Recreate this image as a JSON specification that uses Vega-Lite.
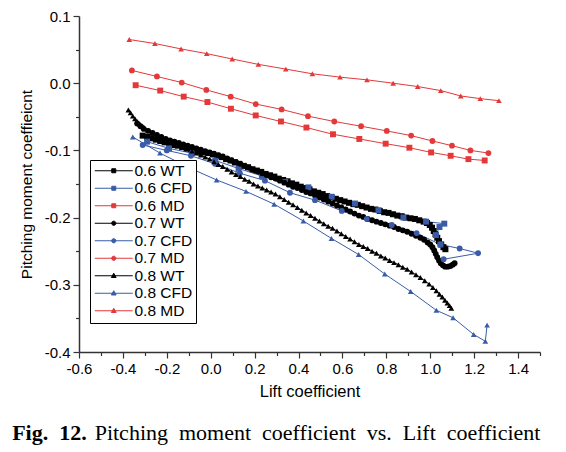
{
  "$schema": "https://vega.github.io/schema/vega-lite/v6.json",
  "width": 461,
  "height": 336,
  "autosize": {"type": "none"},
  "padding": {"left": 79, "top": 16, "right": 26, "bottom": 100},
  "background": "white",
  "config": {
    "view": {"stroke": null},
    "locale": {"number": {"decimal": ".", "thousands": ",", "grouping": [3], "currency": ["$", ""], "minus": "-"}}
  },
  "title": {
    "text": "Fig.\u00a0 12.",
    "subtitle": "\u200b\u00a0\u00a0\u00a0\u00a0\u00a0\u00a0\u00a0\u00a0\u00a0\u00a0\u00a0\u00a0\u00a0\u00a0\u00a0Pitching\u00a0 moment\u00a0 coefficient\u00a0 vs.\u00a0 Lift\u00a0 coefficient",
    "orient": "bottom",
    "anchor": "start",
    "frame": "bounds",
    "font": "Liberation Serif",
    "fontSize": 22,
    "fontWeight": "bold",
    "color": "black",
    "subtitleFont": "Liberation Serif",
    "subtitleFontSize": 22,
    "subtitleFontWeight": "normal",
    "subtitleColor": "black",
    "subtitlePadding": -22,
    "offset": 23,
    "dx": -7
  },
  "data": {"values": [
    {"s":"0.6 WT","x":-0.31,"y":-0.078},{"s":"0.6 WT","x":-0.29,"y":-0.080},{"s":"0.6 WT","x":-0.27,"y":-0.082},{"s":"0.6 WT","x":-0.25,"y":-0.084},{"s":"0.6 WT","x":-0.23,"y":-0.086},{"s":"0.6 WT","x":-0.21,"y":-0.088},{"s":"0.6 WT","x":-0.19,"y":-0.090},{"s":"0.6 WT","x":-0.17,"y":-0.092},{"s":"0.6 WT","x":-0.15,"y":-0.093},{"s":"0.6 WT","x":-0.13,"y":-0.095},{"s":"0.6 WT","x":-0.11,"y":-0.097},{"s":"0.6 WT","x":-0.09,"y":-0.098},{"s":"0.6 WT","x":-0.07,"y":-0.100},{"s":"0.6 WT","x":-0.05,"y":-0.101},{"s":"0.6 WT","x":-0.03,"y":-0.103},{"s":"0.6 WT","x":-0.01,"y":-0.104},{"s":"0.6 WT","x":0.01,"y":-0.106},{"s":"0.6 WT","x":0.03,"y":-0.108},{"s":"0.6 WT","x":0.05,"y":-0.110},{"s":"0.6 WT","x":0.07,"y":-0.113},{"s":"0.6 WT","x":0.09,"y":-0.115},{"s":"0.6 WT","x":0.11,"y":-0.118},{"s":"0.6 WT","x":0.13,"y":-0.120},{"s":"0.6 WT","x":0.15,"y":-0.123},{"s":"0.6 WT","x":0.17,"y":-0.125},{"s":"0.6 WT","x":0.19,"y":-0.128},{"s":"0.6 WT","x":0.21,"y":-0.130},{"s":"0.6 WT","x":0.23,"y":-0.132},{"s":"0.6 WT","x":0.25,"y":-0.135},{"s":"0.6 WT","x":0.27,"y":-0.137},{"s":"0.6 WT","x":0.29,"y":-0.139},{"s":"0.6 WT","x":0.31,"y":-0.142},{"s":"0.6 WT","x":0.33,"y":-0.144},{"s":"0.6 WT","x":0.35,"y":-0.146},{"s":"0.6 WT","x":0.37,"y":-0.149},{"s":"0.6 WT","x":0.39,"y":-0.151},{"s":"0.6 WT","x":0.41,"y":-0.154},{"s":"0.6 WT","x":0.43,"y":-0.156},{"s":"0.6 WT","x":0.45,"y":-0.158},{"s":"0.6 WT","x":0.47,"y":-0.161},{"s":"0.6 WT","x":0.49,"y":-0.163},{"s":"0.6 WT","x":0.51,"y":-0.165},{"s":"0.6 WT","x":0.53,"y":-0.168},{"s":"0.6 WT","x":0.55,"y":-0.170},{"s":"0.6 WT","x":0.57,"y":-0.172},{"s":"0.6 WT","x":0.59,"y":-0.174},{"s":"0.6 WT","x":0.61,"y":-0.176},{"s":"0.6 WT","x":0.63,"y":-0.178},{"s":"0.6 WT","x":0.65,"y":-0.180},{"s":"0.6 WT","x":0.67,"y":-0.181},{"s":"0.6 WT","x":0.69,"y":-0.183},{"s":"0.6 WT","x":0.71,"y":-0.185},{"s":"0.6 WT","x":0.73,"y":-0.187},{"s":"0.6 WT","x":0.75,"y":-0.188},{"s":"0.6 WT","x":0.77,"y":-0.190},{"s":"0.6 WT","x":0.79,"y":-0.192},{"s":"0.6 WT","x":0.81,"y":-0.193},{"s":"0.6 WT","x":0.83,"y":-0.195},{"s":"0.6 WT","x":0.85,"y":-0.197},{"s":"0.6 WT","x":0.87,"y":-0.198},{"s":"0.6 WT","x":0.89,"y":-0.200},{"s":"0.6 WT","x":0.91,"y":-0.201},{"s":"0.6 WT","x":0.93,"y":-0.202},{"s":"0.6 WT","x":0.95,"y":-0.204},{"s":"0.6 WT","x":0.97,"y":-0.206},{"s":"0.6 WT","x":0.985,"y":-0.208},{"s":"0.6 WT","x":0.998,"y":-0.211},{"s":"0.6 WT","x":1.008,"y":-0.215},{"s":"0.6 WT","x":1.016,"y":-0.220},{"s":"0.6 WT","x":1.024,"y":-0.225},{"s":"0.6 WT","x":1.032,"y":-0.230},{"s":"0.6 WT","x":1.040,"y":-0.235},{"s":"0.6 WT","x":1.050,"y":-0.240},{"s":"0.6 WT","x":1.060,"y":-0.244},{"s":"0.6 WT","x":1.069,"y":-0.247},
    {"s":"0.6 CFD","x":-0.29,"y":-0.087},{"s":"0.6 CFD","x":-0.19,"y":-0.097},{"s":"0.6 CFD","x":-0.087,"y":-0.104},{"s":"0.6 CFD","x":0.021,"y":-0.115},{"s":"0.6 CFD","x":0.127,"y":-0.127},{"s":"0.6 CFD","x":0.233,"y":-0.138},{"s":"0.6 CFD","x":0.339,"y":-0.147},{"s":"0.6 CFD","x":0.445,"y":-0.155},{"s":"0.6 CFD","x":0.551,"y":-0.169},{"s":"0.6 CFD","x":0.657,"y":-0.179},{"s":"0.6 CFD","x":0.764,"y":-0.189},{"s":"0.6 CFD","x":0.878,"y":-0.200},{"s":"0.6 CFD","x":0.981,"y":-0.206},{"s":"0.6 CFD","x":1.064,"y":-0.209},{"s":"0.6 CFD","x":1.042,"y":-0.214},{"s":"0.6 CFD","x":1.026,"y":-0.226},{"s":"0.6 CFD","x":1.047,"y":-0.240},
    {"s":"0.6 MD","x":-0.342,"y":-0.003},{"s":"0.6 MD","x":-0.230,"y":-0.011},{"s":"0.6 MD","x":-0.123,"y":-0.020},{"s":"0.6 MD","x":-0.015,"y":-0.028},{"s":"0.6 MD","x":0.092,"y":-0.038},{"s":"0.6 MD","x":0.205,"y":-0.048},{"s":"0.6 MD","x":0.320,"y":-0.057},{"s":"0.6 MD","x":0.436,"y":-0.066},{"s":"0.6 MD","x":0.557,"y":-0.076},{"s":"0.6 MD","x":0.677,"y":-0.083},{"s":"0.6 MD","x":0.797,"y":-0.090},{"s":"0.6 MD","x":0.905,"y":-0.096},{"s":"0.6 MD","x":1.004,"y":-0.103},{"s":"0.6 MD","x":1.093,"y":-0.108},{"s":"0.6 MD","x":1.174,"y":-0.113},{"s":"0.6 MD","x":1.248,"y":-0.115},
    {"s":"0.7 WT","x":-0.335,"y":-0.060},{"s":"0.7 WT","x":-0.32,"y":-0.064},{"s":"0.7 WT","x":-0.305,"y":-0.068},{"s":"0.7 WT","x":-0.285,"y":-0.071},{"s":"0.7 WT","x":-0.265,"y":-0.074},{"s":"0.7 WT","x":-0.245,"y":-0.077},{"s":"0.7 WT","x":-0.225,"y":-0.080},{"s":"0.7 WT","x":-0.205,"y":-0.083},{"s":"0.7 WT","x":-0.185,"y":-0.085},{"s":"0.7 WT","x":-0.165,"y":-0.087},{"s":"0.7 WT","x":-0.145,"y":-0.089},{"s":"0.7 WT","x":-0.125,"y":-0.091},{"s":"0.7 WT","x":-0.105,"y":-0.093},{"s":"0.7 WT","x":-0.085,"y":-0.095},{"s":"0.7 WT","x":-0.065,"y":-0.097},{"s":"0.7 WT","x":-0.045,"y":-0.099},{"s":"0.7 WT","x":-0.025,"y":-0.101},{"s":"0.7 WT","x":-0.005,"y":-0.103},{"s":"0.7 WT","x":0.015,"y":-0.105},{"s":"0.7 WT","x":0.035,"y":-0.107},{"s":"0.7 WT","x":0.055,"y":-0.109},{"s":"0.7 WT","x":0.075,"y":-0.112},{"s":"0.7 WT","x":0.095,"y":-0.115},{"s":"0.7 WT","x":0.115,"y":-0.117},{"s":"0.7 WT","x":0.135,"y":-0.120},{"s":"0.7 WT","x":0.155,"y":-0.123},{"s":"0.7 WT","x":0.175,"y":-0.126},{"s":"0.7 WT","x":0.195,"y":-0.129},{"s":"0.7 WT","x":0.215,"y":-0.131},{"s":"0.7 WT","x":0.235,"y":-0.134},{"s":"0.7 WT","x":0.255,"y":-0.137},{"s":"0.7 WT","x":0.275,"y":-0.140},{"s":"0.7 WT","x":0.295,"y":-0.142},{"s":"0.7 WT","x":0.315,"y":-0.145},{"s":"0.7 WT","x":0.335,"y":-0.148},{"s":"0.7 WT","x":0.355,"y":-0.151},{"s":"0.7 WT","x":0.375,"y":-0.154},{"s":"0.7 WT","x":0.395,"y":-0.156},{"s":"0.7 WT","x":0.415,"y":-0.159},{"s":"0.7 WT","x":0.435,"y":-0.162},{"s":"0.7 WT","x":0.455,"y":-0.164},{"s":"0.7 WT","x":0.475,"y":-0.167},{"s":"0.7 WT","x":0.495,"y":-0.170},{"s":"0.7 WT","x":0.515,"y":-0.173},{"s":"0.7 WT","x":0.535,"y":-0.176},{"s":"0.7 WT","x":0.555,"y":-0.179},{"s":"0.7 WT","x":0.575,"y":-0.182},{"s":"0.7 WT","x":0.595,"y":-0.185},{"s":"0.7 WT","x":0.615,"y":-0.188},{"s":"0.7 WT","x":0.635,"y":-0.191},{"s":"0.7 WT","x":0.655,"y":-0.194},{"s":"0.7 WT","x":0.675,"y":-0.197},{"s":"0.7 WT","x":0.695,"y":-0.199},{"s":"0.7 WT","x":0.715,"y":-0.202},{"s":"0.7 WT","x":0.735,"y":-0.204},{"s":"0.7 WT","x":0.755,"y":-0.206},{"s":"0.7 WT","x":0.775,"y":-0.208},{"s":"0.7 WT","x":0.795,"y":-0.210},{"s":"0.7 WT","x":0.815,"y":-0.212},{"s":"0.7 WT","x":0.835,"y":-0.214},{"s":"0.7 WT","x":0.855,"y":-0.217},{"s":"0.7 WT","x":0.875,"y":-0.219},{"s":"0.7 WT","x":0.895,"y":-0.221},{"s":"0.7 WT","x":0.915,"y":-0.224},{"s":"0.7 WT","x":0.935,"y":-0.227},{"s":"0.7 WT","x":0.955,"y":-0.230},{"s":"0.7 WT","x":0.972,"y":-0.233},{"s":"0.7 WT","x":0.988,"y":-0.237},{"s":"0.7 WT","x":1.000,"y":-0.240},{"s":"0.7 WT","x":1.010,"y":-0.244},{"s":"0.7 WT","x":1.018,"y":-0.249},{"s":"0.7 WT","x":1.025,"y":-0.254},{"s":"0.7 WT","x":1.032,"y":-0.259},{"s":"0.7 WT","x":1.040,"y":-0.264},{"s":"0.7 WT","x":1.048,"y":-0.268},{"s":"0.7 WT","x":1.058,"y":-0.271},{"s":"0.7 WT","x":1.068,"y":-0.273},{"s":"0.7 WT","x":1.080,"y":-0.273},{"s":"0.7 WT","x":1.092,"y":-0.272},{"s":"0.7 WT","x":1.102,"y":-0.270},{"s":"0.7 WT","x":1.111,"y":-0.268},
    {"s":"0.7 CFD","x":-0.31,"y":-0.092},{"s":"0.7 CFD","x":-0.20,"y":-0.100},{"s":"0.7 CFD","x":-0.09,"y":-0.108},{"s":"0.7 CFD","x":0.02,"y":-0.120},{"s":"0.7 CFD","x":0.133,"y":-0.134},{"s":"0.7 CFD","x":0.247,"y":-0.145},{"s":"0.7 CFD","x":0.361,"y":-0.163},{"s":"0.7 CFD","x":0.475,"y":-0.174},{"s":"0.7 CFD","x":0.597,"y":-0.190},{"s":"0.7 CFD","x":0.711,"y":-0.202},{"s":"0.7 CFD","x":0.825,"y":-0.211},{"s":"0.7 CFD","x":0.938,"y":-0.223},{"s":"0.7 CFD","x":1.045,"y":-0.240},{"s":"0.7 CFD","x":1.134,"y":-0.246},{"s":"0.7 CFD","x":1.218,"y":-0.253},{"s":"0.7 CFD","x":1.061,"y":-0.262},
    {"s":"0.7 MD","x":-0.359,"y":0.019},{"s":"0.7 MD","x":-0.245,"y":0.010},{"s":"0.7 MD","x":-0.132,"y":0.001},{"s":"0.7 MD","x":-0.020,"y":-0.010},{"s":"0.7 MD","x":0.091,"y":-0.020},{"s":"0.7 MD","x":0.205,"y":-0.031},{"s":"0.7 MD","x":0.323,"y":-0.039},{"s":"0.7 MD","x":0.443,"y":-0.049},{"s":"0.7 MD","x":0.563,"y":-0.057},{"s":"0.7 MD","x":0.685,"y":-0.064},{"s":"0.7 MD","x":0.802,"y":-0.071},{"s":"0.7 MD","x":0.913,"y":-0.078},{"s":"0.7 MD","x":1.010,"y":-0.086},{"s":"0.7 MD","x":1.099,"y":-0.093},{"s":"0.7 MD","x":1.183,"y":-0.100},{"s":"0.7 MD","x":1.265,"y":-0.104},
    {"s":"0.8 WT","x":-0.375,"y":-0.040},{"s":"0.8 WT","x":-0.365,"y":-0.044},{"s":"0.8 WT","x":-0.355,"y":-0.049},{"s":"0.8 WT","x":-0.345,"y":-0.053},{"s":"0.8 WT","x":-0.335,"y":-0.057},{"s":"0.8 WT","x":-0.322,"y":-0.061},{"s":"0.8 WT","x":-0.305,"y":-0.065},{"s":"0.8 WT","x":-0.285,"y":-0.070},{"s":"0.8 WT","x":-0.265,"y":-0.074},{"s":"0.8 WT","x":-0.245,"y":-0.077},{"s":"0.8 WT","x":-0.225,"y":-0.080},{"s":"0.8 WT","x":-0.205,"y":-0.083},{"s":"0.8 WT","x":-0.185,"y":-0.086},{"s":"0.8 WT","x":-0.165,"y":-0.089},{"s":"0.8 WT","x":-0.145,"y":-0.092},{"s":"0.8 WT","x":-0.125,"y":-0.095},{"s":"0.8 WT","x":-0.105,"y":-0.098},{"s":"0.8 WT","x":-0.085,"y":-0.101},{"s":"0.8 WT","x":-0.065,"y":-0.104},{"s":"0.8 WT","x":-0.045,"y":-0.107},{"s":"0.8 WT","x":-0.025,"y":-0.110},{"s":"0.8 WT","x":-0.005,"y":-0.113},{"s":"0.8 WT","x":0.015,"y":-0.117},{"s":"0.8 WT","x":0.035,"y":-0.121},{"s":"0.8 WT","x":0.055,"y":-0.124},{"s":"0.8 WT","x":0.075,"y":-0.128},{"s":"0.8 WT","x":0.095,"y":-0.132},{"s":"0.8 WT","x":0.115,"y":-0.136},{"s":"0.8 WT","x":0.135,"y":-0.139},{"s":"0.8 WT","x":0.155,"y":-0.143},{"s":"0.8 WT","x":0.175,"y":-0.146},{"s":"0.8 WT","x":0.195,"y":-0.150},{"s":"0.8 WT","x":0.215,"y":-0.153},{"s":"0.8 WT","x":0.235,"y":-0.156},{"s":"0.8 WT","x":0.255,"y":-0.159},{"s":"0.8 WT","x":0.275,"y":-0.162},{"s":"0.8 WT","x":0.295,"y":-0.165},{"s":"0.8 WT","x":0.315,"y":-0.169},{"s":"0.8 WT","x":0.335,"y":-0.173},{"s":"0.8 WT","x":0.355,"y":-0.177},{"s":"0.8 WT","x":0.375,"y":-0.181},{"s":"0.8 WT","x":0.395,"y":-0.185},{"s":"0.8 WT","x":0.415,"y":-0.189},{"s":"0.8 WT","x":0.435,"y":-0.193},{"s":"0.8 WT","x":0.455,"y":-0.197},{"s":"0.8 WT","x":0.475,"y":-0.201},{"s":"0.8 WT","x":0.495,"y":-0.205},{"s":"0.8 WT","x":0.515,"y":-0.209},{"s":"0.8 WT","x":0.535,"y":-0.213},{"s":"0.8 WT","x":0.555,"y":-0.216},{"s":"0.8 WT","x":0.575,"y":-0.220},{"s":"0.8 WT","x":0.595,"y":-0.224},{"s":"0.8 WT","x":0.615,"y":-0.228},{"s":"0.8 WT","x":0.635,"y":-0.232},{"s":"0.8 WT","x":0.655,"y":-0.236},{"s":"0.8 WT","x":0.675,"y":-0.240},{"s":"0.8 WT","x":0.695,"y":-0.243},{"s":"0.8 WT","x":0.715,"y":-0.246},{"s":"0.8 WT","x":0.735,"y":-0.250},{"s":"0.8 WT","x":0.755,"y":-0.253},{"s":"0.8 WT","x":0.775,"y":-0.257},{"s":"0.8 WT","x":0.795,"y":-0.260},{"s":"0.8 WT","x":0.815,"y":-0.264},{"s":"0.8 WT","x":0.835,"y":-0.267},{"s":"0.8 WT","x":0.855,"y":-0.270},{"s":"0.8 WT","x":0.875,"y":-0.274},{"s":"0.8 WT","x":0.895,"y":-0.277},{"s":"0.8 WT","x":0.915,"y":-0.281},{"s":"0.8 WT","x":0.935,"y":-0.285},{"s":"0.8 WT","x":0.955,"y":-0.289},{"s":"0.8 WT","x":0.975,"y":-0.294},{"s":"0.8 WT","x":0.995,"y":-0.299},{"s":"0.8 WT","x":1.012,"y":-0.304},{"s":"0.8 WT","x":1.028,"y":-0.309},{"s":"0.8 WT","x":1.042,"y":-0.314},{"s":"0.8 WT","x":1.055,"y":-0.318},{"s":"0.8 WT","x":1.067,"y":-0.323},{"s":"0.8 WT","x":1.078,"y":-0.327},{"s":"0.8 WT","x":1.088,"y":-0.331},{"s":"0.8 WT","x":1.096,"y":-0.335},
    {"s":"0.8 CFD","x":-0.355,"y":-0.080},{"s":"0.8 CFD","x":-0.231,"y":-0.104},{"s":"0.8 CFD","x":-0.097,"y":-0.126},{"s":"0.8 CFD","x":0.027,"y":-0.144},{"s":"0.8 CFD","x":0.161,"y":-0.161},{"s":"0.8 CFD","x":0.289,"y":-0.180},{"s":"0.8 CFD","x":0.422,"y":-0.205},{"s":"0.8 CFD","x":0.550,"y":-0.231},{"s":"0.8 CFD","x":0.674,"y":-0.255},{"s":"0.8 CFD","x":0.793,"y":-0.284},{"s":"0.8 CFD","x":0.911,"y":-0.310},{"s":"0.8 CFD","x":1.028,"y":-0.338},{"s":"0.8 CFD","x":1.104,"y":-0.349},{"s":"0.8 CFD","x":1.198,"y":-0.374},{"s":"0.8 CFD","x":1.251,"y":-0.384},{"s":"0.8 CFD","x":1.259,"y":-0.360},
    {"s":"0.8 MD","x":-0.371,"y":0.065},{"s":"0.8 MD","x":-0.254,"y":0.059},{"s":"0.8 MD","x":-0.135,"y":0.051},{"s":"0.8 MD","x":-0.018,"y":0.044},{"s":"0.8 MD","x":0.098,"y":0.036},{"s":"0.8 MD","x":0.217,"y":0.028},{"s":"0.8 MD","x":0.342,"y":0.021},{"s":"0.8 MD","x":0.463,"y":0.014},{"s":"0.8 MD","x":0.589,"y":0.009},{"s":"0.8 MD","x":0.712,"y":0.005},{"s":"0.8 MD","x":0.831,"y":0.000},{"s":"0.8 MD","x":0.943,"y":-0.005},{"s":"0.8 MD","x":1.048,"y":-0.011},{"s":"0.8 MD","x":1.139,"y":-0.019},{"s":"0.8 MD","x":1.228,"y":-0.023},{"s":"0.8 MD","x":1.313,"y":-0.026}
  ]},
  "layer": [
    {
      "mark": {"type": "line", "strokeWidth": 1, "clip": false},
      "encoding": {
        "x": {"field": "x", "type": "quantitative",
          "scale": {"domain": [-0.6, 1.5], "nice": false, "zero": false},
          "axis": {"values": [-0.6,-0.4,-0.2,0,0.2,0.4,0.6,0.8,1.0,1.2,1.4], "format": ".1f", "grid": false,
            "title": "Lift coefficient", "tickSize": 6, "tickColor": "#333", "tickWidth": 1.2,
            "domainColor": "#333", "domainWidth": 1.5, "labelFont": "Liberation Sans", "labelFontSize": 15,
            "labelColor": "black", "labelPadding": 3, "titleFont": "Liberation Sans", "titleFontSize": 16.5,
            "titleFontWeight": "normal", "titleColor": "black", "titlePadding": 7, "labelFlush": false}},
        "y": {"field": "y", "type": "quantitative",
          "scale": {"domain": [-0.4, 0.1], "nice": false, "zero": false},
          "axis": {"values": [-0.4,-0.3,-0.2,-0.1,0,0.1], "format": ".1f", "grid": false,
            "title": "Pitching moment coeffieicnt", "tickSize": 6, "tickColor": "#333", "tickWidth": 1.2,
            "domainColor": "#333", "domainWidth": 1.5, "labelFont": "Liberation Sans", "labelFontSize": 15,
            "labelColor": "black", "labelPadding": 3, "titleFont": "Liberation Sans", "titleFontSize": 15.5,
            "titleFontWeight": "normal", "titleColor": "black", "titlePadding": 10, "labelFlush": false}},
        "color": {"field": "s", "type": "nominal",
          "scale": {"domain": ["0.6 WT","0.6 CFD","0.6 MD","0.7 WT","0.7 CFD","0.7 MD","0.8 WT","0.8 CFD","0.8 MD"],
                    "range": ["#000000","#3a5ca8","#e3393a","#000000","#3a5ca8","#e3393a","#000000","#3a5ca8","#e3393a"]},
          "legend": {"title": null, "orient": "none", "legendX": 11, "legendY": 144,
            "strokeColor": "black", "fillColor": "white", "padding": 3,
            "labelFont": "Liberation Sans", "labelFontSize": 15.5, "labelColor": "black",
            "symbolSize": 100, "symbolStrokeWidth": 1, "symbolOffset": 13, "labelOffset": 13, "rowPadding": 0.5,
            "encode": {"symbols": {"update": {
              "fill": {"signal": "scale('color', datum.value)"},
              "shape": {"signal": "indexof(datum.value,'0.6')==0 ? 'M-3.8,0H3.8M-0.4,-0.4H0.4V0.4H-0.4Z' : indexof(datum.value,'0.7')==0 ? 'M-3.8,0H3.8M-0.42,0A0.42,0.42 0 1,0 0.42,0A0.42,0.42 0 1,0 -0.42,0Z' : 'M-3.8,0H3.8M0,-0.5L0.48,0.35H-0.48Z'"}
            }}}}},
        "order": {"value": null}
      }
    },
    {
      "mark": {"type": "point", "filled": true, "opacity": 1, "clip": false},
      "encoding": {
        "x": {"field": "x", "type": "quantitative",
          "axis": {"orient": "bottom", "values": [-0.5,-0.3,-0.1,0.1,0.3,0.5,0.7,0.9,1.1,1.3,1.5], "labels": false, "domain": false, "grid": false,
            "title": null, "tickSize": 3.5, "tickColor": "#333", "tickWidth": 1.2}},
        "y": {"field": "y", "type": "quantitative",
          "axis": {"orient": "left", "values": [-0.35,-0.25,-0.15,-0.05,0.05], "labels": false, "domain": false, "grid": false,
            "title": null, "tickSize": 3.5, "tickColor": "#333", "tickWidth": 1.2}},
        "color": {"field": "s", "type": "nominal", "legend": null},
        "size": {"field": "s", "type": "nominal", "legend": null,
          "scale": {"domain": ["0.6 WT","0.6 CFD","0.6 MD","0.7 WT","0.7 CFD","0.7 MD","0.8 WT","0.8 CFD","0.8 MD"],
                    "range": [36, 32, 34, 38, 34, 36, 40, 36, 38]}},
        "shape": {"field": "s", "type": "nominal", "legend": null,
          "scale": {"domain": ["0.6 WT","0.6 CFD","0.6 MD","0.7 WT","0.7 CFD","0.7 MD","0.8 WT","0.8 CFD","0.8 MD"],
                    "range": ["square","square","square","circle","circle","circle","triangle-up","triangle-up","triangle-up"]}}
      }
    }
  ],
  "resolve": {"axis": {"x": "independent", "y": "independent"}, "legend": {"color": "independent", "shape": "independent", "size": "independent"}}
}
